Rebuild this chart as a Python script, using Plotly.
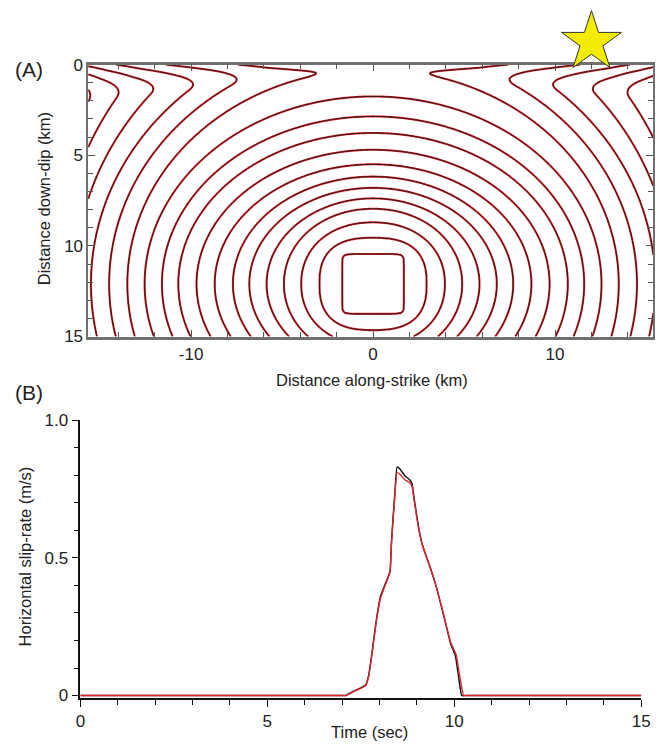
import numpy as np
import plotly.graph_objects as go

# ---------------- Panel A data ----------------
# rupture-front contour positions, km from the hypocentre, one entry per contour level
hypo_x_km = 0.0
hypo_depth_km = 12.1
front_along_strike_km = [1.7, 2.95, 3.95, 4.9, 5.85, 6.8, 7.7, 8.7, 9.7, 10.7,
                         11.6, 12.55, 13.5, 14.5, 15.5, 16.4, 17.3, 18.2, 19.1, 20.0, 20.9]
front_up_dip_km = [1.65, 2.55, 3.4, 4.15, 4.72, 5.3, 5.92, 6.6, 7.4, 8.33,
                   9.24, 10.34, 11.84, 12.99, 14.1, 15.7, 17.7, 19.7, 21.7, 23.7, 25.7]
front_shape_exp = [12, 2.6, 2.15, 2.05, 2.0, 2.0, 2.0, 2.0, 2.0, 2.0,
                   2.0, 2.0, 2.0, 2.0, 2.0, 2.0, 2.0, 2.0, 2.0, 2.0, 2.0]
# free-surface lead of the front (contour intervals) and depth of the lead zone
surface_lead_center = 0.6
surface_lead_per_km = 0.16
lead_depth_center_km = 0.35
lead_depth_per_km = 0.105
station_x_km = [12.0]

# ---------------- Panel B data ----------------
time_black = [0, 7.0, 7.1, 7.28, 7.5, 7.63, 7.71, 7.8, 7.89, 8.02, 8.15, 8.28, 8.32,
              8.37, 8.41, 8.47, 8.54, 8.67, 8.8, 8.87, 8.93, 9.0, 9.07, 9.15, 9.33, 9.5,
              9.68, 9.9, 10.03, 10.11, 10.2, 10.3, 15]
slip_black = [0, 0, 0.0, 0.014, 0.028, 0.038, 0.073, 0.156, 0.25, 0.357, 0.404, 0.451,
              0.558, 0.66, 0.735, 0.83, 0.824, 0.80, 0.785, 0.77, 0.712, 0.65, 0.593,
              0.546, 0.475, 0.404, 0.31, 0.19, 0.144, 0.073, 0.0, 0, 0]
time_red = [0, 7.0, 7.1, 7.28, 7.5, 7.63, 7.71, 7.8, 7.89, 8.02, 8.15, 8.28, 8.32,
            8.37, 8.41, 8.47, 8.54, 8.67, 8.8, 8.87, 8.93, 9.0, 9.07, 9.15, 9.33, 9.5,
            9.68, 9.9, 10.05, 10.14, 10.25, 10.33, 15]
slip_red = [0, 0, 0.0, 0.012, 0.026, 0.036, 0.07, 0.15, 0.245, 0.35, 0.40, 0.448,
            0.55, 0.65, 0.725, 0.81, 0.805, 0.785, 0.775, 0.76, 0.705, 0.645, 0.59,
            0.545, 0.475, 0.405, 0.312, 0.195, 0.148, 0.075, 0.0, 0, 0]

# ---------------- rupture-time field for the contour plot ----------------
xg = np.linspace(-15.65, 15.4, 621)
zg = np.linspace(0.0, 15.0, 301)
X, Z = np.meshgrid(xg, zg)
AX = np.abs(X - hypo_x_km)
DZ = np.abs(Z - hypo_depth_km)
A = np.array(front_along_strike_km)[:, None, None]
B = np.array(front_up_dip_km)[:, None, None]
P = np.array(front_shape_exp, dtype=float)[:, None, None]
R = ((AX[None] / A) ** P + (DZ[None] / B) ** P) ** (1.0 / P)
nlev = len(front_along_strike_km)
inside = R < 1.0
idx = np.argmax(inside, axis=0)
none = ~inside.any(axis=0)
j = np.clip(idx, 1, nlev - 1)
Rj1 = np.take_along_axis(R, (j - 1)[None], axis=0)[0]
Rj = np.take_along_axis(R, j[None], axis=0)[0]
T = (j - 1) + (Rj1 - 1.0) / np.maximum(Rj1 - Rj, 1e-9)
T = np.where(idx == 0, R[0] - 1.0, T)
T_out = (nlev - 1) + (R[-1] - 1.0) / np.maximum(R[-2] - R[-1], 1e-9)
T = np.where(none, T_out, T)
lead_depth = lead_depth_center_km + lead_depth_per_km * AX
taper = np.clip(1.0 - Z / lead_depth, 0.0, None) ** 2
T = T - (surface_lead_center + surface_lead_per_km * AX) * taper

fig = go.Figure()
for col, w in (("#e2262e", 2.1), ("#151515", 1.0)):
    fig.add_trace(go.Contour(
        x=xg, y=zg, z=T, xaxis="x", yaxis="y",
        contours=dict(start=0, end=nlev - 3, size=1, coloring="none"),
        line=dict(color=col, width=w, smoothing=1.0),
        showscale=False, hoverinfo="skip"))

# station star, in a thin strip above panel A sharing its x axis
fig.add_trace(go.Scatter(
    x=station_x_km, y=[0.5], mode="markers", xaxis="x", yaxis="y3",
    marker=dict(symbol="star", size=45, color="#f4ec00",
                line=dict(color="#333333", width=1)),
    cliponaxis=False, showlegend=False, hoverinfo="skip"))

fig.add_trace(go.Scatter(x=time_black, y=slip_black, mode="lines", xaxis="x2", yaxis="y2",
                         line=dict(color="#151515", width=1.5, shape="spline", smoothing=0.4),
                         showlegend=False))
fig.add_trace(go.Scatter(x=time_red, y=slip_red, mode="lines", xaxis="x2", yaxis="y2",
                         line=dict(color="#e2262e", width=1.4, shape="spline", smoothing=0.4),
                         showlegend=False))

W, H = 662, 753
font = "Liberation Sans, Arial, sans-serif"
tickfont = dict(family=font, size=17, color="#222")

fig.update_layout(
    width=W, height=H, margin=dict(l=0, r=0, t=0, b=0),
    paper_bgcolor="white", plot_bgcolor="white", showlegend=False,
    xaxis=dict(domain=[85 / W, 1.0], range=[-15.65, 15.38], showgrid=False, zeroline=False,
               showline=True, linecolor="#707070", linewidth=2.5, mirror="ticks",
               ticks="inside", tickvals=[-10, 0, 10], ticktext=["-10", "0", "10"],
               ticklen=7, tickcolor="#555",
               minor=dict(tickvals=list(range(-14, 16, 2)), ticks="inside", ticklen=5,
                          tickcolor="#555"),
               tickfont=tickfont, anchor="y"),
    yaxis=dict(domain=[1 - 336 / H, 1 - 57 / H], range=[15, 0], showgrid=False, zeroline=False,
               showline=True, linecolor="#707070", linewidth=1.5, mirror="ticks",
               ticks="inside", tickvals=[0, 5, 10, 15], ticklen=7, tickcolor="#555",
               minor=dict(tickvals=list(range(0, 16)), ticks="inside", ticklen=5,
                          tickcolor="#555"),
               tickfont=tickfont, anchor="x"),
    yaxis3=dict(domain=[1 - 57 / H, 1 - 11 / H], range=[0, 1], visible=False,
                showgrid=False, zeroline=False, anchor="x"),
    xaxis2=dict(domain=[77 / W, 650 / W], range=[0, 15], showgrid=False, zeroline=False,
                showline=True, linecolor="#111", linewidth=1.5,
                ticks="outside", tickvals=[0, 5, 10, 15], ticklen=7, tickcolor="#111",
                minor=dict(tickvals=list(range(0, 16)), ticks="outside", ticklen=5,
                           tickcolor="#111"),
                tickfont=tickfont, anchor="y2"),
    yaxis2=dict(domain=[1 - 707 / H, 1 - 422 / H], range=[-0.0095, 1.0], showgrid=False,
                zeroline=False, showline=True, linecolor="#111", linewidth=1.5,
                ticks="outside", tickvals=[0, 0.5, 1.0], ticktext=["0", "0.5", "1.0"],
                ticklen=7, tickcolor="#111",
                minor=dict(tickvals=[i / 10 for i in range(11)], ticks="outside", ticklen=5,
                           tickcolor="#111"),
                tickfont=tickfont, anchor="x2"),
)

ann = [
    dict(text="(A)", x=25 / W, y=1 - 62 / H, font=dict(size=21)),
    dict(text="(B)", x=25 / W, y=1 - 393 / H, font=dict(size=21)),
    dict(text="Distance down-dip (km)", x=40 / W, y=1 - 195 / H, textangle=-90, font=dict(size=16.5)),
    dict(text="Distance along-strike (km)", x=375 / W, y=1 - 381 / H, font=dict(size=16.5)),
    dict(text="Horizontal slip-rate (m/s)", x=20 / W, y=1 - 562 / H, textangle=-90, font=dict(size=16.5)),
    dict(text="Time (sec)", x=372 / W, y=1 - 742 / H, font=dict(size=16.5)),
]
for a in ann:
    a["font"].update(family=font, color="#222")
    fig.add_annotation(xref="paper", yref="paper", showarrow=False,
                       xanchor="center", yanchor="middle", **a)

post = """
document.documentElement.style.margin = '0';
document.body.style.margin = '0';
document.documentElement.style.overflow = 'hidden';
"""
fig.write_html("out.html", config={"displayModeBar": False}, post_script=post)
